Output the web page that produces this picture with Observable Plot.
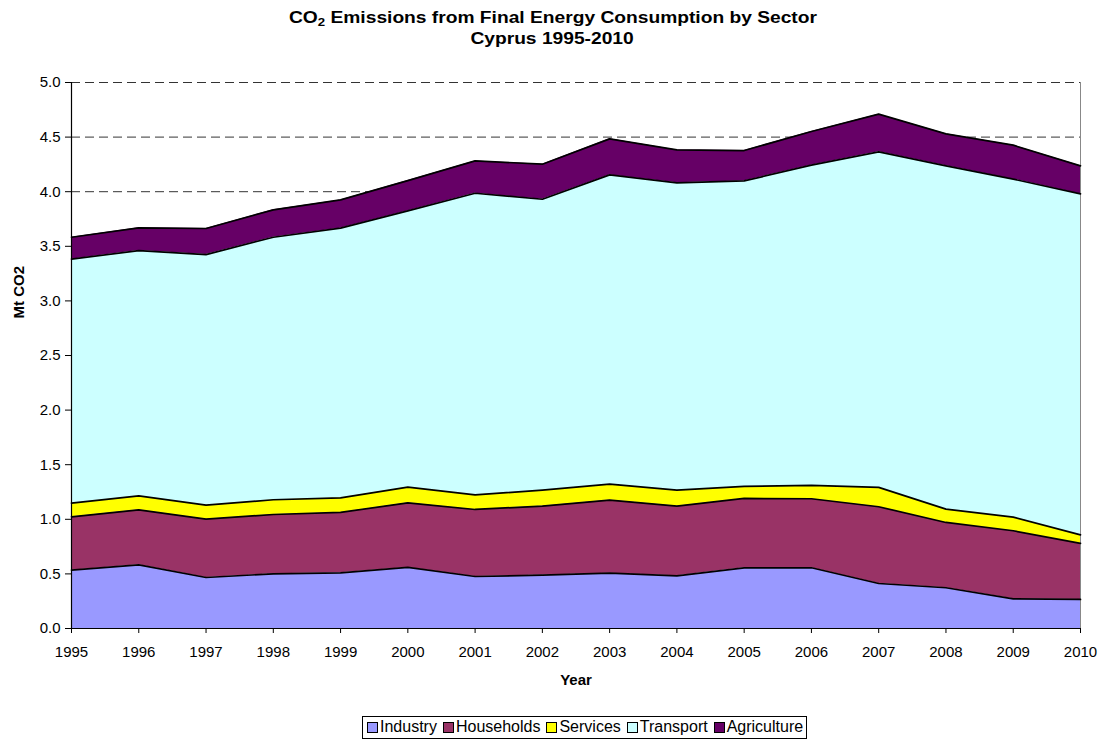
<!DOCTYPE html>
<html>
<head>
<meta charset="utf-8">
<script src="https://cdn.jsdelivr.net/npm/d3@7"></script>
<script src="https://cdn.jsdelivr.net/npm/@observablehq/plot@0.6"></script>
<style>
  body { margin: 0; background: #fff; font-family: "Liberation Sans", Arial, sans-serif; }
  #wrap { width: 1105px; }
  .title { text-align: center; font-weight: bold; font-size: 16px; line-height: 21px; padding-top: 7px; height: 45px; color: #000; }
  .title span { display: inline-block; transform: scaleX(1.2); }
  .title sub { font-size: 11px; vertical-align: -3px; line-height: 0; }
  #chart svg { display: block; }
  .legend-row { padding-left: 362px; margin-top: 14px; height: 26px; }
  .legend { display: inline-flex; border: 1px solid #000; padding: 1px 3px 2px 4px; gap: 6px; font-size: 16px; align-items: center; white-space: nowrap; color: #000; }
  .legend .item { display: inline-flex; align-items: center; gap: 2px; }
  .legend .sw { width: 9px; height: 9px; border: 1px solid #000; display: inline-block; }
</style>
</head>
<body>
<div id="wrap">
  <div class="title"><span>CO<sub>2</sub> Emissions from Final Energy Consumption by Sector</span><br><span>Cyprus 1995-2010</span></div>
  <div id="chart"></div>
  <div class="legend-row"><div class="legend" id="legend"></div></div>
</div>
<script>
// Years and sector emissions, Mt CO2
const years = [1995, 1996, 1997, 1998, 1999, 2000, 2001, 2002, 2003, 2004, 2005, 2006, 2007, 2008, 2009, 2010];
const sectors = ["Industry", "Households", "Services", "Transport", "Agriculture"];
const industry    = [0.534, 0.583, 0.467, 0.501, 0.510, 0.559, 0.476, 0.489, 0.507, 0.482, 0.556, 0.556, 0.412, 0.373, 0.272, 0.266];
const households  = [0.489, 0.504, 0.535, 0.543, 0.553, 0.592, 0.614, 0.632, 0.669, 0.639, 0.635, 0.632, 0.703, 0.598, 0.623, 0.513];
const services    = [0.125, 0.128, 0.128, 0.135, 0.134, 0.144, 0.134, 0.146, 0.146, 0.146, 0.110, 0.122, 0.177, 0.122, 0.125, 0.079];
const transport   = [2.234, 2.246, 2.294, 2.404, 2.469, 2.529, 2.762, 2.664, 2.832, 2.814, 2.798, 2.933, 3.073, 3.144, 3.095, 3.122];
const agriculture = [0.201, 0.208, 0.239, 0.251, 0.259, 0.278, 0.296, 0.321, 0.330, 0.302, 0.278, 0.308, 0.345, 0.293, 0.311, 0.257];
const colors = ["#9999FF", "#993366", "#FFFF00", "#CCFFFF", "#660066"];
const yTicks = [0, 0.5, 1, 1.5, 2, 2.5, 3, 3.5, 4, 4.5, 5];
const yLabel = "Mt CO2";
const xLabel = "Year";

const series = [industry, households, services, transport, agriculture];
const rows = [];
sectors.forEach((s, i) => years.forEach((yr, j) => rows.push({year: yr, sector: s, value: series[i][j]})));

const stackOpts = {x: "year", y: "value", z: "sector", order: sectors};

const chart = Plot.plot({
  width: 1105,
  height: 650,
  marginTop: 30,
  marginLeft: 71,
  marginRight: 25,
  marginBottom: 74,
  style: {fontFamily: "'Liberation Sans', Arial, sans-serif", fontSize: "15px", color: "#000", background: "#fff"},
  x: {type: "linear", domain: [1995, 2010], ticks: years, tickFormat: "d", label: null},
  y: {domain: [0, 5], ticks: yTicks, tickFormat: ".1f", label: null},
  color: {domain: sectors, range: colors},
  marks: [
    Plot.ruleY(yTicks.filter(d => d > 0), {stroke: "#000", strokeWidth: 1, strokeDasharray: "9,5", strokeOpacity: 0.8}),
    Plot.ruleX([2010], {stroke: "#888", strokeWidth: 1}),
    Plot.areaY(rows, {...Plot.stackY(stackOpts), fill: "sector"}),
    Plot.lineY(rows, Plot.stackY2({...stackOpts, stroke: "#000", strokeWidth: 1.7})),
    Plot.ruleY([0], {stroke: "#000", strokeWidth: 1.2}),
    Plot.ruleX([1995], {stroke: "#000", strokeWidth: 1.2}),
    Plot.axisX({ticks: years, tickFormat: "d", tickSize: 5, tickPadding: 13, label: null, fontSize: 15}),
    Plot.axisY({ticks: yTicks, tickFormat: ".1f", tickSize: 6, tickPadding: 5, label: null, fontSize: 15}),
    Plot.text([yLabel], {frameAnchor: "left", dx: -52, dy: -37, rotate: -90, fontWeight: "bold", fontSize: 15}),
    Plot.text([xLabel], {frameAnchor: "bottom", dy: 56, fontWeight: "bold", fontSize: 15})
  ]
});
document.getElementById("chart").appendChild(chart);

const legend = document.getElementById("legend");
sectors.forEach((s, i) => {
  const item = document.createElement("span");
  item.className = "item";
  const sw = document.createElement("span");
  sw.className = "sw";
  sw.style.background = colors[i];
  item.appendChild(sw);
  item.appendChild(document.createTextNode(s));
  legend.appendChild(item);
});
</script>
</body>
</html>
